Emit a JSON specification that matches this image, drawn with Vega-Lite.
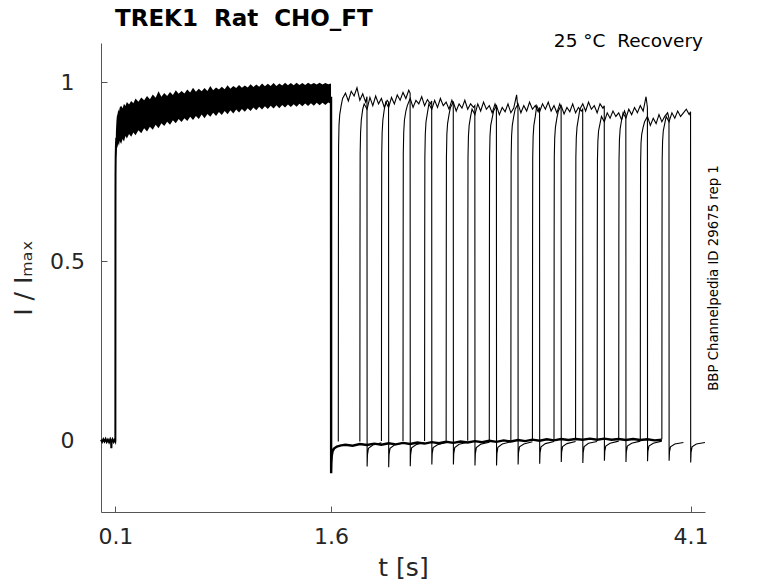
{
  "$schema": "https://vega.github.io/schema/vega-lite/v6.json",
  "width": 604,
  "height": 469,
  "autosize": "none",
  "padding": {"left": 101, "top": 43, "right": 73, "bottom": 71},
  "background": "white",
  "datasets": {
    "pre": [
      {"t": 0, "v": 0.002}, {"t": 0.008, "v": -0.004}, {"t": 0.016, "v": 0.003},
      {"t": 0.024, "v": -0.003}, {"t": 0.032, "v": 0.004}, {"t": 0.04, "v": -0.004},
      {"t": 0.048, "v": 0.002}, {"t": 0.056, "v": -0.005}, {"t": 0.064, "v": 0.003},
      {"t": 0.07, "v": -0.004}, {"t": 0.072, "v": -0.022}, {"t": 0.074, "v": -0.003},
      {"t": 0.08, "v": 0.003}, {"t": 0.088, "v": -0.004}, {"t": 0.095, "v": 0.002},
      {"t": 0.0995, "v": -0.002}, {"t": 0.1, "v": 0}, {"t": 0.1006, "v": 0.66},
      {"t": 0.101, "v": 0.74}, {"t": 0.102, "v": 0.79}, {"t": 0.104, "v": 0.825},
      {"t": 0.107, "v": 0.845}
    ],
    "band": [
      {"t": 0.1006, "lo": 0.62, "hi": 0.7}, {"t": 0.101, "lo": 0.7, "hi": 0.77},
      {"t": 0.102, "lo": 0.75, "hi": 0.83}, {"t": 0.104, "lo": 0.785, "hi": 0.865},
      {"t": 0.107, "lo": 0.8, "hi": 0.89}, {"t": 0.11, "lo": 0.815, "hi": 0.905},
      {"t": 0.115, "lo": 0.82, "hi": 0.912}, {"t": 0.12, "lo": 0.83, "hi": 0.925},
      {"t": 0.125, "lo": 0.822, "hi": 0.918}, {"t": 0.13, "lo": 0.836, "hi": 0.93},
      {"t": 0.14, "lo": 0.828, "hi": 0.935}, {"t": 0.15, "lo": 0.842, "hi": 0.928},
      {"t": 0.16, "lo": 0.835, "hi": 0.94}, {"t": 0.17, "lo": 0.85, "hi": 0.934},
      {"t": 0.18, "lo": 0.843, "hi": 0.945}, {"t": 0.195, "lo": 0.856, "hi": 0.938},
      {"t": 0.21, "lo": 0.848, "hi": 0.948}, {"t": 0.225, "lo": 0.86, "hi": 0.942},
      {"t": 0.24, "lo": 0.852, "hi": 0.955}, {"t": 0.26, "lo": 0.866, "hi": 0.946},
      {"t": 0.28, "lo": 0.858, "hi": 0.958}, {"t": 0.3, "lo": 0.872, "hi": 0.95},
      {"t": 0.32, "lo": 0.863, "hi": 0.962}, {"t": 0.34, "lo": 0.876, "hi": 0.953},
      {"t": 0.36, "lo": 0.868, "hi": 0.966}, {"t": 0.38, "lo": 0.882, "hi": 0.957},
      {"t": 0.4, "lo": 0.872, "hi": 0.975}, {"t": 0.42, "lo": 0.886, "hi": 0.96},
      {"t": 0.44, "lo": 0.878, "hi": 0.97}, {"t": 0.46, "lo": 0.89, "hi": 0.962},
      {"t": 0.48, "lo": 0.882, "hi": 0.973}, {"t": 0.5, "lo": 0.894, "hi": 0.965},
      {"t": 0.52, "lo": 0.886, "hi": 0.978}, {"t": 0.54, "lo": 0.898, "hi": 0.968},
      {"t": 0.56, "lo": 0.889, "hi": 0.976}, {"t": 0.58, "lo": 0.9, "hi": 0.969},
      {"t": 0.6, "lo": 0.892, "hi": 0.98}, {"t": 0.62, "lo": 0.904, "hi": 0.972},
      {"t": 0.64, "lo": 0.895, "hi": 0.985}, {"t": 0.66, "lo": 0.906, "hi": 0.974},
      {"t": 0.68, "lo": 0.898, "hi": 0.982}, {"t": 0.7, "lo": 0.91, "hi": 0.975},
      {"t": 0.72, "lo": 0.9, "hi": 0.984}, {"t": 0.74, "lo": 0.912, "hi": 0.976},
      {"t": 0.76, "lo": 0.904, "hi": 0.99}, {"t": 0.78, "lo": 0.915, "hi": 0.978},
      {"t": 0.8, "lo": 0.906, "hi": 0.986}, {"t": 0.82, "lo": 0.917, "hi": 0.98},
      {"t": 0.84, "lo": 0.909, "hi": 0.988}, {"t": 0.86, "lo": 0.92, "hi": 0.981},
      {"t": 0.88, "lo": 0.911, "hi": 0.992}, {"t": 0.9, "lo": 0.922, "hi": 0.982},
      {"t": 0.92, "lo": 0.913, "hi": 0.99}, {"t": 0.94, "lo": 0.924, "hi": 0.984},
      {"t": 0.96, "lo": 0.916, "hi": 0.993}, {"t": 0.98, "lo": 0.926, "hi": 0.985},
      {"t": 1.0, "lo": 0.918, "hi": 0.991}, {"t": 1.02, "lo": 0.928, "hi": 0.986},
      {"t": 1.04, "lo": 0.92, "hi": 0.995}, {"t": 1.06, "lo": 0.93, "hi": 0.987},
      {"t": 1.08, "lo": 0.922, "hi": 0.994}, {"t": 1.1, "lo": 0.932, "hi": 0.988},
      {"t": 1.12, "lo": 0.924, "hi": 0.997}, {"t": 1.14, "lo": 0.933, "hi": 0.989},
      {"t": 1.16, "lo": 0.926, "hi": 0.996}, {"t": 1.18, "lo": 0.935, "hi": 0.99},
      {"t": 1.2, "lo": 0.927, "hi": 0.998}, {"t": 1.22, "lo": 0.936, "hi": 0.99},
      {"t": 1.24, "lo": 0.928, "hi": 0.997}, {"t": 1.26, "lo": 0.937, "hi": 0.991},
      {"t": 1.28, "lo": 0.93, "hi": 0.999}, {"t": 1.3, "lo": 0.938, "hi": 0.992},
      {"t": 1.32, "lo": 0.931, "hi": 0.998}, {"t": 1.34, "lo": 0.939, "hi": 0.992},
      {"t": 1.36, "lo": 0.932, "hi": 0.999}, {"t": 1.38, "lo": 0.94, "hi": 0.993},
      {"t": 1.4, "lo": 0.933, "hi": 0.998}, {"t": 1.42, "lo": 0.941, "hi": 0.993},
      {"t": 1.44, "lo": 0.934, "hi": 0.999}, {"t": 1.46, "lo": 0.942, "hi": 0.994},
      {"t": 1.48, "lo": 0.935, "hi": 0.998}, {"t": 1.5, "lo": 0.943, "hi": 0.994},
      {"t": 1.52, "lo": 0.936, "hi": 0.999}, {"t": 1.54, "lo": 0.943, "hi": 0.994},
      {"t": 1.56, "lo": 0.937, "hi": 0.998}, {"t": 1.58, "lo": 0.944, "hi": 0.995},
      {"t": 1.5995, "lo": 0.94, "hi": 0.997}
    ],
    "tail": [
      {"t": 1.5995, "v": 0.96}, {"t": 1.6003, "v": -0.092}, {"t": 1.602, "v": -0.062},
      {"t": 1.605, "v": -0.042}, {"t": 1.61, "v": -0.031}, {"t": 1.62, "v": -0.023},
      {"t": 1.64, "v": -0.017}, {"t": 1.67, "v": -0.014}, {"t": 1.7, "v": -0.012},
      {"t": 1.75, "v": -0.015}, {"t": 1.8, "v": -0.01}, {"t": 1.85, "v": -0.013},
      {"t": 1.9, "v": -0.009}, {"t": 1.95, "v": -0.012}, {"t": 2.0, "v": -0.008},
      {"t": 2.05, "v": -0.011}, {"t": 2.1, "v": -0.007}, {"t": 2.15, "v": -0.01},
      {"t": 2.2, "v": -0.006}, {"t": 2.25, "v": -0.009}, {"t": 2.3, "v": -0.005},
      {"t": 2.35, "v": -0.008}, {"t": 2.4, "v": -0.004}, {"t": 2.45, "v": -0.007},
      {"t": 2.5, "v": -0.003}, {"t": 2.55, "v": -0.006}, {"t": 2.6, "v": -0.002},
      {"t": 2.65, "v": -0.005}, {"t": 2.7, "v": -0.001}, {"t": 2.75, "v": -0.004},
      {"t": 2.8, "v": 0.0}, {"t": 2.85, "v": -0.003}, {"t": 2.9, "v": 0.001},
      {"t": 2.95, "v": -0.002}, {"t": 3.0, "v": 0.002}, {"t": 3.05, "v": -0.001},
      {"t": 3.1, "v": 0.003}, {"t": 3.15, "v": 0.0}, {"t": 3.2, "v": 0.004},
      {"t": 3.25, "v": 0.001}, {"t": 3.3, "v": 0.004}, {"t": 3.35, "v": 0.002},
      {"t": 3.4, "v": 0.005}, {"t": 3.45, "v": 0.002}, {"t": 3.5, "v": 0.005},
      {"t": 3.55, "v": 0.002}, {"t": 3.6, "v": 0.004}, {"t": 3.65, "v": 0.001},
      {"t": 3.7, "v": 0.004}, {"t": 3.75, "v": 0.001}, {"t": 3.8, "v": 0.003},
      {"t": 3.85, "v": 0.0}, {"t": 3.9, "v": 0.002}
    ],
    "sweeps": [
      {"s": 0, "t": 1.65, "v": -0.003}, {"s": 0, "t": 1.651, "v": 0.6}, {"s": 0, "t": 1.652, "v": 0.82},
      {"s": 0, "t": 1.655, "v": 0.88}, {"s": 0, "t": 1.66, "v": 0.91}, {"s": 0, "t": 1.67, "v": 0.935},
      {"s": 0, "t": 1.68, "v": 0.955}, {"s": 0, "t": 1.7, "v": 0.97}, {"s": 0, "t": 1.72, "v": 0.948},
      {"s": 0, "t": 1.74, "v": 0.975}, {"s": 0, "t": 1.76, "v": 0.962}, {"s": 0, "t": 1.78, "v": 0.985},
      {"s": 0, "t": 1.8, "v": 0.95}, {"s": 0, "t": 1.82, "v": 0.968}, {"s": 0, "t": 1.84, "v": 0.945},
      {"s": 0, "t": 1.8495, "v": 0.96}, {"s": 0, "t": 1.8505, "v": -0.073}, {"s": 0, "t": 1.853, "v": -0.04},
      {"s": 0, "t": 1.86, "v": -0.022}, {"s": 0, "t": 1.89, "v": -0.013}, {"s": 0, "t": 1.95, "v": -0.007},

      {"s": 1, "t": 1.8, "v": -0.003}, {"s": 1, "t": 1.801, "v": 0.55}, {"s": 1, "t": 1.802, "v": 0.8},
      {"s": 1, "t": 1.805, "v": 0.86}, {"s": 1, "t": 1.81, "v": 0.895}, {"s": 1, "t": 1.82, "v": 0.925},
      {"s": 1, "t": 1.83, "v": 0.94}, {"s": 1, "t": 1.85, "v": 0.925}, {"s": 1, "t": 1.87, "v": 0.958},
      {"s": 1, "t": 1.89, "v": 0.935}, {"s": 1, "t": 1.91, "v": 0.962}, {"s": 1, "t": 1.93, "v": 0.94},
      {"s": 1, "t": 1.95, "v": 0.955}, {"s": 1, "t": 1.97, "v": 0.93}, {"s": 1, "t": 1.99, "v": 0.95},
      {"s": 1, "t": 1.9995, "v": 0.945}, {"s": 1, "t": 2.0005, "v": -0.075}, {"s": 1, "t": 2.003, "v": -0.04},
      {"s": 1, "t": 2.01, "v": -0.022}, {"s": 1, "t": 2.04, "v": -0.013}, {"s": 1, "t": 2.1, "v": -0.007},

      {"s": 2, "t": 1.95, "v": -0.002}, {"s": 2, "t": 1.951, "v": 0.55}, {"s": 2, "t": 1.952, "v": 0.8},
      {"s": 2, "t": 1.955, "v": 0.86}, {"s": 2, "t": 1.96, "v": 0.895}, {"s": 2, "t": 1.97, "v": 0.925},
      {"s": 2, "t": 1.98, "v": 0.945}, {"s": 2, "t": 2.0, "v": 0.93}, {"s": 2, "t": 2.02, "v": 0.958},
      {"s": 2, "t": 2.04, "v": 0.94}, {"s": 2, "t": 2.06, "v": 0.965}, {"s": 2, "t": 2.08, "v": 0.95},
      {"s": 2, "t": 2.1, "v": 0.972}, {"s": 2, "t": 2.12, "v": 0.955}, {"s": 2, "t": 2.14, "v": 0.978},
      {"s": 2, "t": 2.1495, "v": 0.97}, {"s": 2, "t": 2.1505, "v": -0.072}, {"s": 2, "t": 2.153, "v": -0.04},
      {"s": 2, "t": 2.16, "v": -0.021}, {"s": 2, "t": 2.19, "v": -0.012}, {"s": 2, "t": 2.25, "v": -0.006},

      {"s": 3, "t": 2.1, "v": -0.002}, {"s": 3, "t": 2.101, "v": 0.55}, {"s": 3, "t": 2.102, "v": 0.8},
      {"s": 3, "t": 2.105, "v": 0.86}, {"s": 3, "t": 2.11, "v": 0.895}, {"s": 3, "t": 2.12, "v": 0.92},
      {"s": 3, "t": 2.13, "v": 0.935}, {"s": 3, "t": 2.15, "v": 0.955}, {"s": 3, "t": 2.17, "v": 0.93},
      {"s": 3, "t": 2.19, "v": 0.95}, {"s": 3, "t": 2.21, "v": 0.94}, {"s": 3, "t": 2.23, "v": 0.96},
      {"s": 3, "t": 2.25, "v": 0.935}, {"s": 3, "t": 2.27, "v": 0.952}, {"s": 3, "t": 2.29, "v": 0.94},
      {"s": 3, "t": 2.2995, "v": 0.948}, {"s": 3, "t": 2.3005, "v": -0.067}, {"s": 3, "t": 2.303, "v": -0.037},
      {"s": 3, "t": 2.31, "v": -0.02}, {"s": 3, "t": 2.34, "v": -0.012}, {"s": 3, "t": 2.4, "v": -0.006},

      {"s": 4, "t": 2.25, "v": -0.002}, {"s": 4, "t": 2.251, "v": 0.55}, {"s": 4, "t": 2.252, "v": 0.79},
      {"s": 4, "t": 2.255, "v": 0.855}, {"s": 4, "t": 2.26, "v": 0.89}, {"s": 4, "t": 2.27, "v": 0.915},
      {"s": 4, "t": 2.28, "v": 0.94}, {"s": 4, "t": 2.3, "v": 0.925}, {"s": 4, "t": 2.32, "v": 0.95},
      {"s": 4, "t": 2.34, "v": 0.93}, {"s": 4, "t": 2.36, "v": 0.955}, {"s": 4, "t": 2.38, "v": 0.935},
      {"s": 4, "t": 2.4, "v": 0.945}, {"s": 4, "t": 2.42, "v": 0.925}, {"s": 4, "t": 2.44, "v": 0.95},
      {"s": 4, "t": 2.4495, "v": 0.94}, {"s": 4, "t": 2.4505, "v": -0.067}, {"s": 4, "t": 2.453, "v": -0.037},
      {"s": 4, "t": 2.46, "v": -0.02}, {"s": 4, "t": 2.49, "v": -0.011}, {"s": 4, "t": 2.55, "v": -0.005},

      {"s": 5, "t": 2.4, "v": -0.001}, {"s": 5, "t": 2.401, "v": 0.55}, {"s": 5, "t": 2.402, "v": 0.79},
      {"s": 5, "t": 2.405, "v": 0.855}, {"s": 5, "t": 2.41, "v": 0.885}, {"s": 5, "t": 2.42, "v": 0.91},
      {"s": 5, "t": 2.43, "v": 0.93}, {"s": 5, "t": 2.45, "v": 0.945}, {"s": 5, "t": 2.47, "v": 0.92},
      {"s": 5, "t": 2.49, "v": 0.94}, {"s": 5, "t": 2.51, "v": 0.928}, {"s": 5, "t": 2.53, "v": 0.95},
      {"s": 5, "t": 2.55, "v": 0.925}, {"s": 5, "t": 2.57, "v": 0.94}, {"s": 5, "t": 2.59, "v": 0.93},
      {"s": 5, "t": 2.5995, "v": 0.935}, {"s": 5, "t": 2.6005, "v": -0.07}, {"s": 5, "t": 2.603, "v": -0.038},
      {"s": 5, "t": 2.61, "v": -0.02}, {"s": 5, "t": 2.64, "v": -0.011}, {"s": 5, "t": 2.7, "v": -0.005},

      {"s": 6, "t": 2.55, "v": -0.001}, {"s": 6, "t": 2.551, "v": 0.55}, {"s": 6, "t": 2.552, "v": 0.79},
      {"s": 6, "t": 2.555, "v": 0.85}, {"s": 6, "t": 2.56, "v": 0.88}, {"s": 6, "t": 2.57, "v": 0.905},
      {"s": 6, "t": 2.58, "v": 0.925}, {"s": 6, "t": 2.6, "v": 0.91}, {"s": 6, "t": 2.62, "v": 0.94},
      {"s": 6, "t": 2.64, "v": 0.92}, {"s": 6, "t": 2.66, "v": 0.945}, {"s": 6, "t": 2.68, "v": 0.925},
      {"s": 6, "t": 2.7, "v": 0.935}, {"s": 6, "t": 2.72, "v": 0.915}, {"s": 6, "t": 2.74, "v": 0.94},
      {"s": 6, "t": 2.7495, "v": 0.93}, {"s": 6, "t": 2.7505, "v": -0.07}, {"s": 6, "t": 2.753, "v": -0.037},
      {"s": 6, "t": 2.76, "v": -0.019}, {"s": 6, "t": 2.79, "v": -0.01}, {"s": 6, "t": 2.85, "v": -0.004},

      {"s": 7, "t": 2.7, "v": 0}, {"s": 7, "t": 2.701, "v": 0.55}, {"s": 7, "t": 2.702, "v": 0.79},
      {"s": 7, "t": 2.705, "v": 0.85}, {"s": 7, "t": 2.71, "v": 0.88}, {"s": 7, "t": 2.72, "v": 0.9},
      {"s": 7, "t": 2.73, "v": 0.92}, {"s": 7, "t": 2.75, "v": 0.935}, {"s": 7, "t": 2.77, "v": 0.91},
      {"s": 7, "t": 2.79, "v": 0.93}, {"s": 7, "t": 2.81, "v": 0.918}, {"s": 7, "t": 2.83, "v": 0.94},
      {"s": 7, "t": 2.85, "v": 0.915}, {"s": 7, "t": 2.87, "v": 0.928}, {"s": 7, "t": 2.89, "v": 0.965},
      {"s": 7, "t": 2.8995, "v": 0.925}, {"s": 7, "t": 2.9005, "v": -0.067}, {"s": 7, "t": 2.903, "v": -0.036},
      {"s": 7, "t": 2.91, "v": -0.018}, {"s": 7, "t": 2.94, "v": -0.01}, {"s": 7, "t": 3.0, "v": -0.004},

      {"s": 8, "t": 2.85, "v": 0}, {"s": 8, "t": 2.851, "v": 0.55}, {"s": 8, "t": 2.852, "v": 0.79},
      {"s": 8, "t": 2.855, "v": 0.85}, {"s": 8, "t": 2.86, "v": 0.88}, {"s": 8, "t": 2.87, "v": 0.905},
      {"s": 8, "t": 2.88, "v": 0.925}, {"s": 8, "t": 2.9, "v": 0.94}, {"s": 8, "t": 2.92, "v": 0.915},
      {"s": 8, "t": 2.94, "v": 0.935}, {"s": 8, "t": 2.96, "v": 0.92}, {"s": 8, "t": 2.98, "v": 0.945},
      {"s": 8, "t": 3.0, "v": 0.925}, {"s": 8, "t": 3.02, "v": 0.935}, {"s": 8, "t": 3.04, "v": 0.918},
      {"s": 8, "t": 3.0495, "v": 0.93}, {"s": 8, "t": 3.0505, "v": -0.065}, {"s": 8, "t": 3.053, "v": -0.035},
      {"s": 8, "t": 3.06, "v": -0.018}, {"s": 8, "t": 3.09, "v": -0.009}, {"s": 8, "t": 3.15, "v": -0.003},

      {"s": 9, "t": 3.0, "v": 0}, {"s": 9, "t": 3.001, "v": 0.55}, {"s": 9, "t": 3.002, "v": 0.79},
      {"s": 9, "t": 3.005, "v": 0.85}, {"s": 9, "t": 3.01, "v": 0.88}, {"s": 9, "t": 3.02, "v": 0.905},
      {"s": 9, "t": 3.03, "v": 0.935}, {"s": 9, "t": 3.05, "v": 0.918}, {"s": 9, "t": 3.07, "v": 0.94},
      {"s": 9, "t": 3.09, "v": 0.925}, {"s": 9, "t": 3.11, "v": 0.945}, {"s": 9, "t": 3.13, "v": 0.92},
      {"s": 9, "t": 3.15, "v": 0.935}, {"s": 9, "t": 3.17, "v": 0.915}, {"s": 9, "t": 3.19, "v": 0.94},
      {"s": 9, "t": 3.1995, "v": 0.93}, {"s": 9, "t": 3.2005, "v": -0.06}, {"s": 9, "t": 3.203, "v": -0.033},
      {"s": 9, "t": 3.21, "v": -0.017}, {"s": 9, "t": 3.24, "v": -0.009}, {"s": 9, "t": 3.3, "v": -0.003},

      {"s": 10, "t": 3.15, "v": 0.001}, {"s": 10, "t": 3.151, "v": 0.55}, {"s": 10, "t": 3.152, "v": 0.79},
      {"s": 10, "t": 3.155, "v": 0.845}, {"s": 10, "t": 3.16, "v": 0.875}, {"s": 10, "t": 3.17, "v": 0.9},
      {"s": 10, "t": 3.18, "v": 0.92}, {"s": 10, "t": 3.2, "v": 0.935}, {"s": 10, "t": 3.22, "v": 0.912},
      {"s": 10, "t": 3.24, "v": 0.93}, {"s": 10, "t": 3.26, "v": 0.918}, {"s": 10, "t": 3.28, "v": 0.94},
      {"s": 10, "t": 3.3, "v": 0.915}, {"s": 10, "t": 3.32, "v": 0.93}, {"s": 10, "t": 3.34, "v": 0.92},
      {"s": 10, "t": 3.3495, "v": 0.925}, {"s": 10, "t": 3.3505, "v": -0.063}, {"s": 10, "t": 3.353, "v": -0.034},
      {"s": 10, "t": 3.36, "v": -0.017}, {"s": 10, "t": 3.39, "v": -0.008}, {"s": 10, "t": 3.45, "v": -0.003},

      {"s": 11, "t": 3.3, "v": 0.001}, {"s": 11, "t": 3.301, "v": 0.55}, {"s": 11, "t": 3.302, "v": 0.79},
      {"s": 11, "t": 3.305, "v": 0.845}, {"s": 11, "t": 3.31, "v": 0.875}, {"s": 11, "t": 3.32, "v": 0.9},
      {"s": 11, "t": 3.33, "v": 0.925}, {"s": 11, "t": 3.35, "v": 0.94}, {"s": 11, "t": 3.37, "v": 0.92},
      {"s": 11, "t": 3.39, "v": 0.945}, {"s": 11, "t": 3.41, "v": 0.925}, {"s": 11, "t": 3.43, "v": 0.935},
      {"s": 11, "t": 3.45, "v": 0.915}, {"s": 11, "t": 3.47, "v": 0.94}, {"s": 11, "t": 3.49, "v": 0.928},
      {"s": 11, "t": 3.4995, "v": 0.935}, {"s": 11, "t": 3.5005, "v": -0.057}, {"s": 11, "t": 3.503, "v": -0.031},
      {"s": 11, "t": 3.51, "v": -0.016}, {"s": 11, "t": 3.54, "v": -0.008}, {"s": 11, "t": 3.6, "v": -0.002},

      {"s": 12, "t": 3.45, "v": 0.002}, {"s": 12, "t": 3.451, "v": 0.54}, {"s": 12, "t": 3.452, "v": 0.78},
      {"s": 12, "t": 3.455, "v": 0.835}, {"s": 12, "t": 3.46, "v": 0.865}, {"s": 12, "t": 3.47, "v": 0.885},
      {"s": 12, "t": 3.48, "v": 0.905}, {"s": 12, "t": 3.5, "v": 0.89}, {"s": 12, "t": 3.52, "v": 0.915},
      {"s": 12, "t": 3.54, "v": 0.9}, {"s": 12, "t": 3.56, "v": 0.92}, {"s": 12, "t": 3.58, "v": 0.905},
      {"s": 12, "t": 3.6, "v": 0.915}, {"s": 12, "t": 3.62, "v": 0.895}, {"s": 12, "t": 3.64, "v": 0.92},
      {"s": 12, "t": 3.6495, "v": 0.91}, {"s": 12, "t": 3.6505, "v": -0.06}, {"s": 12, "t": 3.653, "v": -0.032},
      {"s": 12, "t": 3.66, "v": -0.016}, {"s": 12, "t": 3.69, "v": -0.008}, {"s": 12, "t": 3.75, "v": -0.002},

      {"s": 13, "t": 3.6, "v": 0.002}, {"s": 13, "t": 3.601, "v": 0.54}, {"s": 13, "t": 3.602, "v": 0.78},
      {"s": 13, "t": 3.605, "v": 0.84}, {"s": 13, "t": 3.61, "v": 0.87}, {"s": 13, "t": 3.62, "v": 0.895},
      {"s": 13, "t": 3.63, "v": 0.915}, {"s": 13, "t": 3.65, "v": 0.9}, {"s": 13, "t": 3.67, "v": 0.925},
      {"s": 13, "t": 3.69, "v": 0.91}, {"s": 13, "t": 3.71, "v": 0.93}, {"s": 13, "t": 3.73, "v": 0.915},
      {"s": 13, "t": 3.75, "v": 0.935}, {"s": 13, "t": 3.77, "v": 0.92}, {"s": 13, "t": 3.79, "v": 0.96},
      {"s": 13, "t": 3.7995, "v": 0.93}, {"s": 13, "t": 3.8005, "v": -0.058}, {"s": 13, "t": 3.803, "v": -0.031},
      {"s": 13, "t": 3.81, "v": -0.016}, {"s": 13, "t": 3.84, "v": -0.008}, {"s": 13, "t": 3.9, "v": -0.002},

      {"s": 14, "t": 3.75, "v": 0.002}, {"s": 14, "t": 3.751, "v": 0.53}, {"s": 14, "t": 3.752, "v": 0.77},
      {"s": 14, "t": 3.755, "v": 0.83}, {"s": 14, "t": 3.76, "v": 0.855}, {"s": 14, "t": 3.77, "v": 0.875},
      {"s": 14, "t": 3.78, "v": 0.89}, {"s": 14, "t": 3.8, "v": 0.905}, {"s": 14, "t": 3.82, "v": 0.88},
      {"s": 14, "t": 3.84, "v": 0.9}, {"s": 14, "t": 3.86, "v": 0.885}, {"s": 14, "t": 3.88, "v": 0.91},
      {"s": 14, "t": 3.9, "v": 0.89}, {"s": 14, "t": 3.92, "v": 0.905}, {"s": 14, "t": 3.94, "v": 0.915},
      {"s": 14, "t": 3.9495, "v": 0.9}, {"s": 14, "t": 3.9505, "v": -0.057}, {"s": 14, "t": 3.953, "v": -0.032},
      {"s": 14, "t": 3.96, "v": -0.018}, {"s": 14, "t": 3.99, "v": -0.01}, {"s": 14, "t": 4.05, "v": -0.006},

      {"s": 15, "t": 3.9, "v": 0.003}, {"s": 15, "t": 3.901, "v": 0.54}, {"s": 15, "t": 3.902, "v": 0.78},
      {"s": 15, "t": 3.905, "v": 0.835}, {"s": 15, "t": 3.91, "v": 0.865}, {"s": 15, "t": 3.92, "v": 0.885},
      {"s": 15, "t": 3.93, "v": 0.905}, {"s": 15, "t": 3.95, "v": 0.89}, {"s": 15, "t": 3.97, "v": 0.915},
      {"s": 15, "t": 3.99, "v": 0.9}, {"s": 15, "t": 4.01, "v": 0.92}, {"s": 15, "t": 4.03, "v": 0.905},
      {"s": 15, "t": 4.05, "v": 0.915}, {"s": 15, "t": 4.07, "v": 0.925}, {"s": 15, "t": 4.09, "v": 0.91},
      {"s": 15, "t": 4.0995, "v": 0.918}, {"s": 15, "t": 4.1005, "v": -0.062}, {"s": 15, "t": 4.103, "v": -0.034},
      {"s": 15, "t": 4.11, "v": -0.018}, {"s": 15, "t": 4.14, "v": -0.01}, {"s": 15, "t": 4.2, "v": -0.006}
    ]
  },
  "layer": [
    {
      "data": {"name": "band"},
      "mark": {"type": "area", "color": "black", "interpolate": "linear"},
      "encoding": {
        "x": {
          "field": "t",
          "type": "quantitative",
          "scale": {"domain": [0, 4.2], "nice": false, "zero": false},
          "axis": {
            "values": [0.1, 1.6, 4.1],
            "format": "~g",
            "title": "t [s]",
            "titleFontSize": 25,
            "titlePadding": 8,
            "labelPadding": 20
          }
        },
        "y": {
          "field": "hi",
          "type": "quantitative",
          "scale": {"domain": [-0.2, 1.11], "nice": false, "zero": false},
          "axis": {
            "values": [0, 0.5, 1],
            "format": "~g",
            "title": "I / Iₘₐₓ",
            "titleFontSize": 25,
            "labelAlign": "center",
            "labelPadding": 40,
            "titlePadding": 13
          }
        },
        "y2": {"field": "lo"}
      }
    },
    {
      "data": {"name": "pre"},
      "mark": {"type": "line", "color": "black", "strokeWidth": 2},
      "encoding": {
        "x": {"field": "t", "type": "quantitative"},
        "y": {"field": "v", "type": "quantitative", "axis": null}
      }
    },
    {
      "data": {"name": "tail"},
      "mark": {"type": "line", "color": "black", "strokeWidth": 2.4},
      "encoding": {
        "x": {"field": "t", "type": "quantitative"},
        "y": {"field": "v", "type": "quantitative", "axis": null}
      }
    },
    {
      "data": {"name": "sweeps"},
      "mark": {"type": "line", "color": "black", "strokeWidth": 1.1},
      "encoding": {
        "x": {"field": "t", "type": "quantitative"},
        "y": {"field": "v", "type": "quantitative", "axis": null},
        "detail": {"field": "s", "type": "nominal"}
      }
    },
    {
      "data": {"values": [{"label": "TREK1\u00a0 Rat\u00a0 CHO_FT"}]},
      "mark": {
        "type": "text",
        "align": "left",
        "baseline": "alphabetic",
        "font": "DejaVu Sans",
        "fontSize": 23,
        "fontWeight": "bold",
        "color": "black",
        "dx": 14,
        "dy": -17
      },
      "encoding": {
        "text": {"field": "label"},
        "x": {"datum": 0, "type": "quantitative"},
        "y": {"datum": 1.11, "type": "quantitative", "axis": null}
      }
    },
    {
      "data": {"values": [{"label": "25 °C\u00a0 Recovery"}]},
      "mark": {
        "type": "text",
        "align": "right",
        "baseline": "alphabetic",
        "font": "DejaVu Sans",
        "fontSize": 18.5,
        "color": "black",
        "dx": -2,
        "dy": 4
      },
      "encoding": {
        "text": {"field": "label"},
        "x": {"datum": 4.2, "type": "quantitative"},
        "y": {
          "datum": 1.11,
          "type": "quantitative",
          "axis": {
            "orient": "right",
            "title": "BBP Channelpedia ID 29675 rep 1",
            "titleAngle": 270,
            "titleFontSize": 13.3,
            "titleColor": "black",
            "titlePadding": 15,
            "labels": false,
            "ticks": false,
            "domain": false,
            "grid": false
          }
        }
      }
    }
  ],
  "resolve": {"axis": {"y": "independent"}},
  "config": {
    "view": {"stroke": null},
    "font": "DejaVu Sans",
    "axis": {
      "grid": false,
      "domainColor": "#555555",
      "domainWidth": 1,
      "tickColor": "#555555",
      "tickSize": -6,
      "labelFont": "DejaVu Sans",
      "labelFontSize": 22,
      "labelColor": "#262626",
      "titleFont": "DejaVu Sans",
      "titleFontWeight": "normal",
      "titleColor": "#262626"
    }
  }
}
